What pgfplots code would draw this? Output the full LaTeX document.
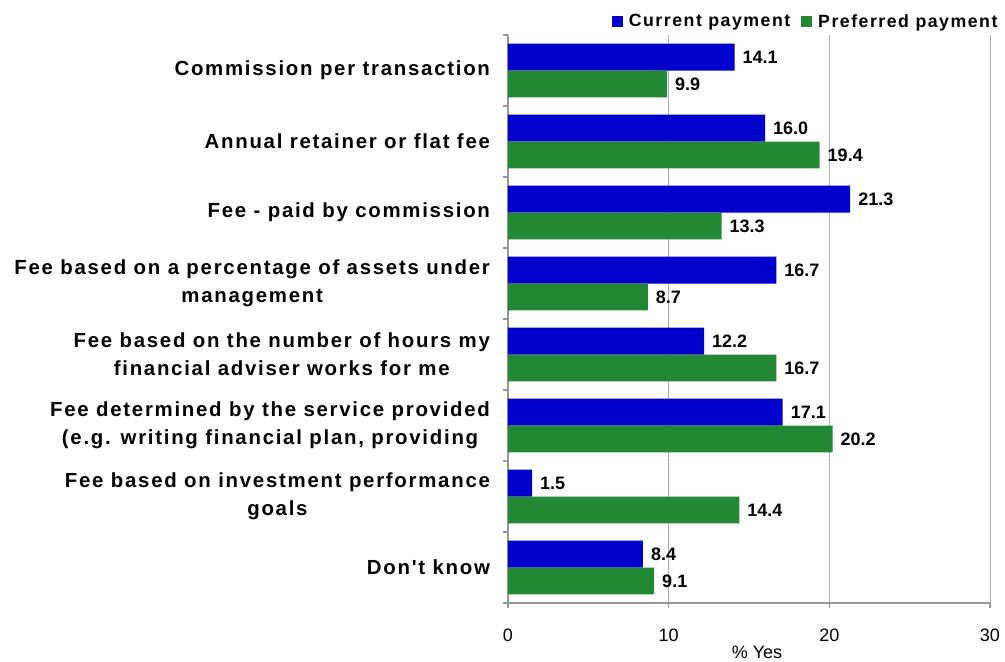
\documentclass[border=0pt]{standalone}
\usepackage{pgfplots}
\pgfplotsset{compat=1.18}
\usepackage{pgfplotstable}
\usepackage{fontspec}
\setmainfont{Liberation Sans}
\newfontfamily\lblfont[LetterSpace=8.5]{Liberation Sans}
\definecolor{cblue}{RGB}{0,0,204}
\definecolor{cgreen}{RGB}{35,136,52}
\definecolor{axgray}{RGB}{150,150,150}
\definecolor{grgray}{RGB}{175,175,175}
\pgfplotstableread{
idx cur pref
0 14.1 9.9
1 16.0 19.4
2 21.3 13.3
3 16.7 8.7
4 12.2 16.7
5 17.1 20.2
6 1.5 14.4
7 8.4 9.1
}\datatable
\begin{document}
\begin{tikzpicture}
\begin{axis}[
  scale only axis,
  width=361.5pt, height=426pt,
  xmin=0, xmax=30, ymin=-0.5, ymax=7.5,
  y dir=reverse,
  xbar, bar width=0.38,
  axis x line*=bottom, axis y line*=left,
  axis line style={-, draw=axgray, line width=0.8pt},
  xtick={0,10,20,30},
  xmajorgrids=true,
  grid style={draw=grgray, line width=0.6pt},
  tick align=outside,
  major tick length=4pt,
  tick style={draw=axgray, line width=0.8pt},
  /pgf/number format/assume math mode=true,
  xticklabel style={font=\fontsize{13.5}{16}\selectfont, yshift=-12pt},
  xlabel={\% Yes},
  xlabel style={font=\fontsize{13.5}{16}\selectfont, yshift=4pt, xshift=6pt},
  ytick={-0.5,0.5,...,7.5},
  yticklabels={},
  extra y ticks={0,1,2,3,4,5,6,7},
  extra y tick labels={Commission per transaction, Annual retainer or flat fee, Fee - paid by commission, {Fee based on a percentage of assets under\\management}, {Fee based on the number of hours my\\financial adviser works for me}, {Fee determined by the service provided\\(e.g. writing financial plan, providing}, {Fee based on investment performance\\goals}, Don't know},
  extra y tick style={major tick length=0pt, grid=none,
    yticklabel style={align=center, font=\fontsize{15.3}{21}\lblfont\bfseries, xshift=-10pt}},
  legend columns=2,
  legend style={draw=none, at={(1.03,1)}, anchor=east, yshift=10pt,
    font=\fontsize{13.3}{15}\lblfont\bfseries,
    /tikz/every odd column/.append style={column sep=2.5pt},
    /tikz/every even column/.append style={column sep=6pt}},
  legend image code/.code={\fill[#1] (0pt,-4.2pt) rectangle (8.4pt,4.2pt);},
  nodes near coords={\pgfmathprintnumber[fixed,zerofill,precision=1]{\pgfplotspointmeta}},
  point meta=x,
  every node near coord/.append style={anchor=west, xshift=2.5pt, font=\fontsize{13.5}{16}\selectfont\bfseries},
]
\addplot[draw=none, fill=cblue, bar shift=0pt] table[x=cur, y expr=\thisrow{idx}-0.19] {\datatable};
\addlegendentry{Current payment}
\addplot[draw=none, fill=cgreen, bar shift=0pt] table[x=pref, y expr=\thisrow{idx}+0.19] {\datatable};
\addlegendentry{Preferred payment}
\end{axis}
\pgfresetboundingbox
\path[use as bounding box] (-381pt,-43.5pt) rectangle (372.75pt,452.25pt);
\end{tikzpicture}
\end{document}
